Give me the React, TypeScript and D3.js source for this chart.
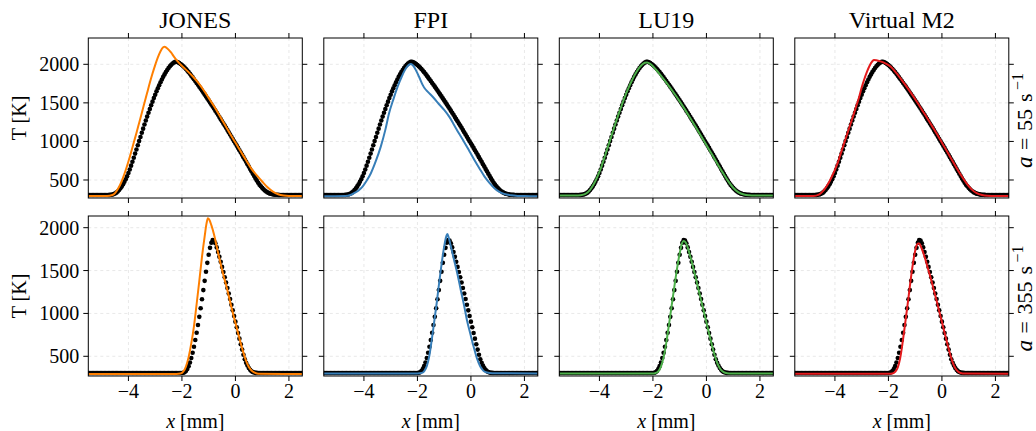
import * as d3 from "d3";

// reference data (black dots): T [K] sampled every 0.05 mm from x = -5.5 to 2.5
const REF_X0 = -5.5;
const REF_DX = 0.05;

const refTop = [
  305, 305, 305, 305, 305, 305, 305, 305, 305, 305, 305, 305, 305, 305, 305, 306, 307, 309, 312, 317,
  325, 336, 351, 370, 392, 417, 445, 476, 510, 547, 590, 637, 686, 737, 789, 842, 896, 950, 1004, 1058,
  1112, 1166, 1219, 1271, 1322, 1372, 1421, 1469, 1516, 1562, 1606, 1649, 1690, 1729, 1767, 1803, 1837, 1869, 1899, 1927,
  1952, 1975, 1995, 2011, 2023, 2031, 2033, 2027, 2016, 2003, 1990, 1975, 1958, 1939, 1919, 1898, 1876, 1853, 1830, 1806,
  1782, 1758, 1734, 1710, 1685, 1660, 1635, 1610, 1584, 1558, 1532, 1506, 1480, 1453, 1426, 1399, 1372, 1345, 1317, 1289,
  1261, 1233, 1205, 1177, 1148, 1119, 1090, 1061, 1032, 1003, 974, 945, 916, 886, 856, 826, 796, 766, 736, 705,
  674, 643, 612, 581, 551, 521, 492, 465, 440, 418, 398, 380, 364, 350, 339, 330, 323, 318, 314, 311,
  309, 308, 307, 306, 306, 306, 306, 306, 306, 306, 306, 306, 306, 306, 306, 306, 306, 306, 306, 306,
  306,
];

const refBottom = [
  305, 305, 305, 305, 305, 305, 305, 305, 305, 305, 305, 305, 305, 305, 305, 305, 305, 305, 305, 305,
  305, 305, 305, 305, 305, 305, 305, 305, 305, 305, 305, 305, 305, 305, 305, 305, 305, 305, 305, 305,
  305, 305, 305, 305, 305, 305, 305, 305, 305, 305, 305, 305, 305, 305, 305, 305, 305, 305, 305, 305,
  305, 305, 305, 305, 305, 305, 305, 305, 305, 305, 305, 308, 314, 328, 352, 385, 428, 480, 542, 612,
  690, 775, 865, 960, 1060, 1165, 1272, 1380, 1487, 1590, 1685, 1765, 1825, 1855, 1850, 1818, 1770, 1716, 1660, 1602,
  1543, 1483, 1422, 1360, 1297, 1233, 1168, 1102, 1036, 970, 904, 838, 772, 706, 641, 578, 518, 465, 425, 392,
  364, 342, 326, 316, 310, 307, 306, 305, 305, 305, 305, 305, 305, 305, 305, 305, 305, 305, 305, 305,
  305, 305, 305, 305, 305, 305, 305, 305, 305, 305, 305, 305, 305, 305, 305, 305, 305, 305, 305, 305,
  305,
];

// model curves, [x mm, T K]
const jonesTop = [
  [-5.5, 292], [-4.8, 293], [-4.6, 305], [-4.5, 330], [-4.4, 380], [-4.3, 445], [-4.2, 530], [-4.1, 630],
  [-4.0, 740], [-3.9, 860], [-3.8, 985], [-3.7, 1110], [-3.6, 1240], [-3.5, 1370], [-3.4, 1500], [-3.3, 1630],
  [-3.2, 1760], [-3.1, 1880], [-3.0, 1990], [-2.9, 2090], [-2.8, 2170], [-2.7, 2220], [-2.65, 2228], [-2.6, 2220],
  [-2.5, 2190], [-2.4, 2150], [-2.3, 2100], [-2.2, 2055], [-2.1, 2015], [-2.0, 1980], [-1.8, 1915], [-1.6, 1845],
  [-1.4, 1765], [-1.2, 1670], [-1.0, 1565], [-0.8, 1455], [-0.6, 1340], [-0.4, 1220], [-0.2, 1100], [0.0, 985],
  [0.2, 870], [0.4, 755], [0.6, 645], [0.8, 560], [1.0, 480], [1.2, 405], [1.4, 350], [1.6, 315], [1.8, 298],
  [2.0, 292], [2.5, 291],
];
const jonesBottom = [
  [-5.5, 293], [-2.2, 293], [-2.05, 298], [-1.95, 320], [-1.85, 380], [-1.75, 490], [-1.65, 650], [-1.55, 850],
  [-1.45, 1110], [-1.35, 1380], [-1.25, 1660], [-1.15, 1900], [-1.08, 2050], [-1.03, 2110], [-0.98, 2095],
  [-0.9, 2030], [-0.8, 1920], [-0.7, 1780], [-0.6, 1640], [-0.5, 1510], [-0.4, 1390], [-0.3, 1270], [-0.2, 1140],
  [-0.1, 1010], [0.0, 890], [0.1, 770], [0.2, 650], [0.3, 540], [0.4, 445], [0.5, 375], [0.6, 335], [0.7, 312],
  [0.8, 300], [0.9, 295], [2.5, 293],
];
const fpiTop = [
  [-5.5, 290], [-4.7, 291], [-4.5, 305], [-4.37, 329], [-4.2, 365], [-4.05, 415], [-3.9, 490], [-3.74, 588],
  [-3.55, 750], [-3.37, 933], [-3.2, 1150], [-3.06, 1365], [-2.9, 1545], [-2.74, 1710], [-2.58, 1845],
  [-2.43, 1948], [-2.32, 1992], [-2.25, 2004], [-2.18, 1990], [-2.05, 1920], [-1.94, 1839], [-1.8, 1730],
  [-1.73, 1689], [-1.6, 1640], [-1.38, 1560], [-1.2, 1485], [-1.0, 1408], [-0.8, 1315], [-0.63, 1214],
  [-0.45, 1105], [-0.26, 997], [-0.05, 870], [0.13, 760], [0.32, 650], [0.51, 544], [0.7, 460], [0.88, 394],
  [1.05, 350], [1.24, 320], [1.5, 302], [1.74, 294], [2.0, 291], [2.5, 290],
];
const fpiBottom = [
  [-5.5, 300], [-2.0, 300], [-1.85, 305], [-1.75, 325], [-1.65, 385], [-1.56, 497], [-1.47, 680], [-1.38, 886],
  [-1.28, 1120], [-1.19, 1352], [-1.1, 1570], [-1.0, 1779], [-0.93, 1890], [-0.88, 1927], [-0.83, 1885],
  [-0.75, 1780], [-0.63, 1624], [-0.5, 1455], [-0.38, 1274], [-0.26, 1100], [-0.15, 924], [-0.02, 760],
  [0.1, 613], [0.22, 480], [0.35, 380], [0.47, 330], [0.6, 310], [0.8, 302], [2.5, 300],
];
const lu19Top = [
  [-5.5, 298], [-4.8, 299], [-4.6, 310], [-4.5, 325], [-4.4, 352], [-4.3, 397], [-4.2, 455], [-4.1, 525],
  [-4.0, 605], [-3.9, 700], [-3.8, 805], [-3.7, 912], [-3.6, 1020], [-3.5, 1128], [-3.4, 1235], [-3.3, 1338],
  [-3.2, 1437], [-3.1, 1532], [-3.0, 1622], [-2.9, 1705], [-2.8, 1780], [-2.7, 1850], [-2.6, 1910], [-2.5, 1960],
  [-2.4, 1998], [-2.3, 2020], [-2.22, 2024], [-2.1, 2005], [-2.0, 1975], [-1.8, 1895], [-1.6, 1808], [-1.4, 1718],
  [-1.2, 1622], [-1.0, 1520], [-0.8, 1412], [-0.6, 1300], [-0.4, 1186], [-0.2, 1070], [0.0, 953], [0.2, 836],
  [0.4, 718], [0.6, 602], [0.8, 492], [1.0, 400], [1.2, 340], [1.4, 312], [1.6, 302], [1.8, 299], [2.5, 298],
];
const lu19Bottom = [
  [-5.5, 298], [-2.0, 298], [-1.9, 305], [-1.8, 325], [-1.7, 380], [-1.6, 490], [-1.5, 660], [-1.4, 870],
  [-1.3, 1090], [-1.2, 1310], [-1.1, 1520], [-1.0, 1700], [-0.92, 1810], [-0.85, 1845], [-0.78, 1830],
  [-0.7, 1770], [-0.6, 1660], [-0.5, 1540], [-0.4, 1415], [-0.3, 1285], [-0.2, 1155], [-0.1, 1025], [0.0, 895],
  [0.1, 765], [0.2, 638], [0.3, 520], [0.4, 425], [0.5, 360], [0.6, 325], [0.7, 308], [0.85, 300], [2.5, 298],
];
const m2Top = [
  [-5.5, 292], [-4.8, 293], [-4.6, 310], [-4.5, 337], [-4.4, 375], [-4.3, 425], [-4.2, 485], [-4.1, 555],
  [-4.0, 632], [-3.9, 718], [-3.8, 825], [-3.7, 930], [-3.6, 1035], [-3.5, 1140], [-3.4, 1245], [-3.3, 1350],
  [-3.2, 1460], [-3.1, 1570], [-3.0, 1700], [-2.9, 1810], [-2.8, 1905], [-2.7, 1985], [-2.6, 2040], [-2.54, 2056],
  [-2.45, 2052], [-2.3, 2038], [-2.1, 2010], [-1.9, 1965], [-1.7, 1885], [-1.5, 1795], [-1.3, 1700], [-1.1, 1600],
  [-0.9, 1495], [-0.7, 1385], [-0.5, 1275], [-0.3, 1160], [-0.1, 1045], [0.1, 925], [0.3, 805], [0.5, 685],
  [0.7, 570], [0.9, 465], [1.1, 382], [1.3, 330], [1.5, 305], [1.7, 295], [2.0, 292], [2.5, 292],
];
const m2Bottom = [
  [-5.5, 296], [-2.0, 296], [-1.85, 300], [-1.75, 318], [-1.65, 370], [-1.56, 480], [-1.47, 660], [-1.38, 870],
  [-1.28, 1110], [-1.19, 1340], [-1.1, 1550], [-1.02, 1700], [-0.95, 1790], [-0.9, 1815], [-0.85, 1815],
  [-0.8, 1790], [-0.7, 1710], [-0.6, 1610], [-0.5, 1500], [-0.4, 1390], [-0.3, 1270], [-0.2, 1150],
  [-0.1, 1025], [0.0, 900], [0.1, 775], [0.2, 650], [0.3, 530], [0.4, 430], [0.5, 360], [0.6, 322],
  [0.7, 305], [0.85, 298], [2.5, 296],
];

const titles = ["JONES", "FPI", "LU19", "Virtual M2"];
const colors = ["#ff7f00", "#377eb8", "#4daf4a", "#e41a1c"];
const topModels = [jonesTop, fpiTop, lu19Top, m2Top];
const bottomModels = [jonesBottom, fpiBottom, lu19Bottom, m2Bottom];
const strainRates = ["55", "355"];

const xTicks = [-4, -2, 0, 2];
const yTicks = [500, 1000, 1500, 2000];
const xDomain = [-5.5, 2.5];
const yDomains = [
  [266.6, 2341],
  [270, 2136.5],
];

const FONT = "'Liberation Serif', 'Times New Roman', serif";
const PW = 214;
const PH = 160;
const colLeft = (i: number) => 88.3 + i * 235.5;
const rowTop = [38, 216];
const TICK = 5;

const fmt = (v: number) => (v < 0 ? "\u2212" + Math.abs(v) : String(v));

function Panel({ col, row }: { col: number; row: number }) {
  const left = colLeft(col);
  const top = rowTop[row];
  const x = d3.scaleLinear().domain(xDomain).range([left, left + PW]);
  const y = d3.scaleLinear().domain(yDomains[row]).range([top + PH, top]);
  const ref = row === 0 ? refTop : refBottom;
  const model = (row === 0 ? topModels : bottomModels)[col];
  const line = d3
    .line<number[]>()
    .x((d) => x(d[0]))
    .y((d) => y(d[1]))
    .curve(d3.curveMonotoneX);
  const clipId = `clip-${row}-${col}`;
  const bottom = top + PH;
  const right = left + PW;

  return (
    <g>
      <defs>
        <clipPath id={clipId}>
          <rect x={left} y={top} width={PW} height={PH} />
        </clipPath>
      </defs>
      {/* grid */}
      {xTicks.map((t) => (
        <line key={"gx" + t} x1={x(t)} x2={x(t)} y1={top} y2={bottom}
          stroke="#d8d8d8" strokeWidth={0.6} strokeDasharray="3,3" />
      ))}
      {yTicks.map((t) => (
        <line key={"gy" + t} x1={left} x2={right} y1={y(t)} y2={y(t)}
          stroke="#d8d8d8" strokeWidth={0.6} strokeDasharray="3,3" />
      ))}
      <g clipPath={`url(#${clipId})`}>
        {ref.map((t, i) => (
          <circle key={i} cx={x(REF_X0 + i * REF_DX)} cy={y(t)} r={2.3} fill="#000" />
        ))}
        <path d={line(model) || ""} fill="none" stroke={colors[col]} strokeWidth={2} />
      </g>
      <rect x={left} y={top} width={PW} height={PH} fill="none" stroke="#000" strokeWidth={1} />
      {/* ticks */}
      {xTicks.map((t) => (
        <g key={"tx" + t}>
          <line x1={x(t)} x2={x(t)} y1={bottom} y2={bottom + TICK} stroke="#000" />
          <line x1={x(t)} x2={x(t)} y1={top} y2={top - TICK} stroke="#000" />
        </g>
      ))}
      {yTicks.map((t) => (
        <g key={"ty" + t}>
          <line x1={left} x2={left - TICK} y1={y(t)} y2={y(t)} stroke="#000" />
          <line x1={right} x2={right + TICK} y1={y(t)} y2={y(t)} stroke="#000" />
        </g>
      ))}
      {col === 0 &&
        yTicks.map((t) => (
          <text key={"ly" + t} x={left - 9} y={y(t) + 7} textAnchor="end" fontSize={20} fontFamily={FONT}>
            {t}
          </text>
        ))}
      {row === 1 &&
        xTicks.map((t) => (
          <text key={"lx" + t} x={x(t)} y={bottom + 22} textAnchor="middle" fontSize={20} fontFamily={FONT}>
            {fmt(t)}
          </text>
        ))}
      {row === 0 && (
        <text x={left + PW / 2} y={28} textAnchor="middle" fontSize={24} fontFamily={FONT}>
          {titles[col]}
        </text>
      )}
      {row === 1 && (
        <text x={left + PW / 2} y={428} textAnchor="middle" fontSize={20} fontFamily={FONT}>
          <tspan fontStyle="italic">x</tspan> [mm]
        </text>
      )}
      {col === 0 && (
        <text transform={`translate(26, ${top + PH / 2}) rotate(-90)`} textAnchor="middle" fontSize={20} fontFamily={FONT}>
          T [K]
        </text>
      )}
    </g>
  );
}

function RateLabel({ row }: { row: number }) {
  const rate = strainRates[row];
  const extra = (rate.length - 2) * 11;
  const len = 100 + extra;
  const cy = rowTop[row] + PH / 2;
  return (
    <g transform={`translate(1032, ${cy + len / 2}) rotate(-90)`} fontFamily={FONT} fontSize={22}>
      <text x={0} y={0} fontStyle="italic" fontSize={23}>a</text>
      <text x={18} y={0}>=</text>
      <text x={37} y={0}>{rate}</text>
      <text x={66 + extra} y={0}>s</text>
      <text x={78 + extra} y={-9} fontSize={16}>{"\u22121"}</text>
    </g>
  );
}

export default function App() {
  return (
    <svg
      width={1036}
      height={431}
      style={{ position: "absolute", left: 0, top: 0, display: "block", background: "#fff" }}
    >
      {[0, 1].map((row) =>
        [0, 1, 2, 3].map((col) => <Panel key={`${row}-${col}`} row={row} col={col} />)
      )}
      <RateLabel row={0} />
      <RateLabel row={1} />
    </svg>
  );
}
